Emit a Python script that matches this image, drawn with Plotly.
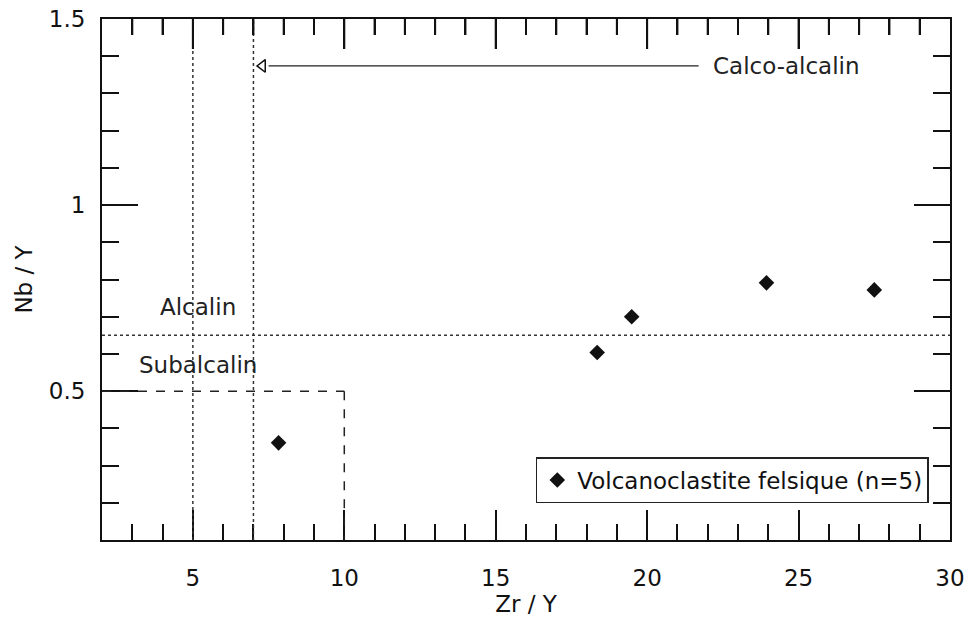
import plotly.graph_objects as go

# Data
zr_y = [7.83, 18.35, 19.49, 23.94, 27.5]
nb_y = [0.361, 0.604, 0.700, 0.791, 0.772]
series_name = "Volcanoclastite felsique (n=5)"

# Field boundaries
x_min, x_max = 2, 30
y_min, y_max = 0.1, 1.5
v_lines = [5, 7]
h_line = 0.65
box_x, box_y = 10, 0.5
arrow_y = 1.374
arrow_x_end = 21.7

FONT = "DejaVu Sans, sans-serif"

fig = go.Figure()

fig.add_trace(go.Scatter(
    x=zr_y, y=nb_y, mode="markers", name=series_name,
    marker=dict(symbol="diamond", size=12, color="#111"),
))

# open triangle arrow head
fig.add_trace(go.Scatter(
    x=[7.3], y=[arrow_y], mode="markers", showlegend=False, hoverinfo="skip",
    marker=dict(symbol="triangle-left-open", size=11, color="#111", line=dict(width=1.5)),
))

shapes = []
for xv in v_lines:
    shapes.append(dict(type="line", x0=xv, x1=xv, y0=y_min, y1=y_max,
                       line=dict(color="#333", width=1.5, dash="dot")))
shapes.append(dict(type="line", x0=x_min, x1=x_max, y0=h_line, y1=h_line,
                   line=dict(color="#333", width=1.5, dash="dot")))
shapes.append(dict(type="line", x0=x_min, x1=box_x, y0=box_y, y1=box_y,
                   line=dict(color="#222", width=1.5, dash="dash")))
shapes.append(dict(type="line", x0=box_x, x1=box_x, y0=box_y, y1=y_min,
                   line=dict(color="#222", width=1.5, dash="dash")))
shapes.append(dict(type="line", x0=7.5, x1=arrow_x_end, y0=arrow_y, y1=arrow_y,
                   line=dict(color="#222", width=1.3)))

# top-side tick marks (mirror of the x axis), sized in pixels from the top edge
for xv in range(x_min + 1, x_max):
    tick_len = 30 if xv % 5 == 0 else 16
    shapes.append(dict(type="line", xref="x", yref="y", ysizemode="pixel",
                       yanchor=y_max, x0=xv, x1=xv, y0=0, y1=-tick_len,
                       line=dict(color="#111", width=2)))

annotations = [
    dict(x=22.1, y=arrow_y, text="Calco-alcalin", showarrow=False, xanchor="left",
         font=dict(size=23, color="#222", family=FONT)),
    dict(x=5.16, y=0.726, text="Alcalin", showarrow=False,
         font=dict(size=23, color="#222", family=FONT)),
    dict(x=5.16, y=0.570, text="Subalcalin", showarrow=False,
         font=dict(size=23, color="#222", family=FONT)),
]

common = dict(showgrid=False, zeroline=False, automargin=False,
              showline=True, linecolor="#111", linewidth=2, mirror="ticks",
              ticks="inside", tickwidth=2, tickcolor="#111")
x_minor = dict(dtick=1, ticks="inside", ticklen=16, tickwidth=2, tickcolor="#111", showgrid=False)
y_minor = dict(dtick=0.1, ticks="inside", ticklen=17, tickwidth=2, tickcolor="#111", showgrid=False)

fig.update_layout(
    width=971, height=617,
    margin=dict(l=102, r=21, t=19, b=77),
    paper_bgcolor="white", plot_bgcolor="white",
    font=dict(family=FONT, size=23, color="#111"),
    shapes=shapes, annotations=annotations,
    showlegend=True,
    legend=dict(x=0.975, y=0.071, xanchor="right", yanchor="bottom",
                bordercolor="#222", borderwidth=1.5, bgcolor="white",
                font=dict(size=23, family=FONT), itemsizing="constant",
                tracegroupgap=0),
    xaxis=dict(range=[x_min, x_max], tick0=0, dtick=5, ticklen=30,
               ticklabelstandoff=16, minor=x_minor,
               title=dict(text="Zr / Y", font=dict(size=23, family=FONT), standoff=0),
               tickfont=dict(size=23, family=FONT), **common),
    yaxis=dict(range=[y_min, y_max], tick0=0, dtick=0.5, ticklen=36,
               ticklabelstandoff=10, minor=y_minor,
               title=dict(text="Nb / Y", font=dict(size=23, family=FONT), standoff=10),
               tickfont=dict(size=23, family=FONT), **common),
)

fig.write_html("out.html",
               config={"displayModeBar": False},
               post_script="document.body.style.margin='0';document.body.style.overflow='hidden';")
